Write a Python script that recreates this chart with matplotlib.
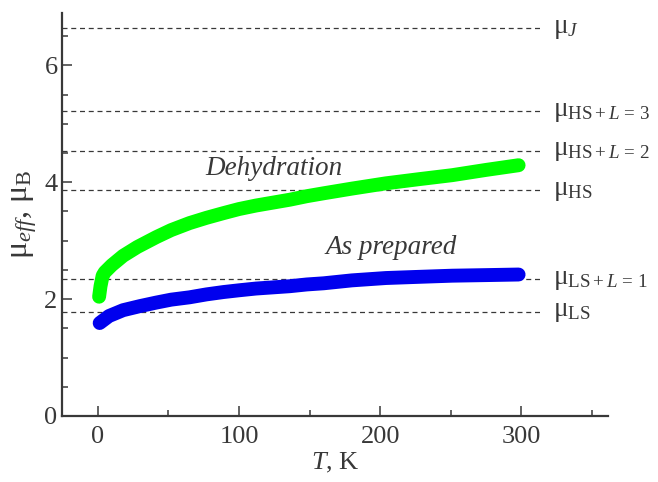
import matplotlib
matplotlib.use("Agg")
import matplotlib.pyplot as plt
from matplotlib.ticker import MultipleLocator

plt.rcParams['font.family'] = ['Liberation Serif', 'DejaVu Serif']
plt.rcParams['mathtext.fontset'] = 'custom'
plt.rcParams['mathtext.rm'] = 'Liberation Serif'
plt.rcParams['mathtext.it'] = 'Liberation Serif:italic'

# Dehydration (green)
T_dehyd = [1, 2, 3.5, 5, 10, 18, 28, 41.5, 52, 65, 77, 89, 100, 112, 124, 136, 148,
           160, 180, 204, 227, 251, 275, 298]
mu_dehyd = [2.04, 2.22, 2.40, 2.46, 2.58, 2.74, 2.89, 3.06, 3.18, 3.30, 3.39, 3.47, 3.54,
            3.60, 3.65, 3.70, 3.76, 3.81, 3.89, 3.98, 4.05, 4.12, 4.21, 4.29]

# As prepared (blue)
T_prep = [1.4, 8, 18, 30, 41.5, 52, 65, 77, 89, 100, 112, 124, 136, 148, 160, 180,
          204, 227, 251, 275, 298]
mu_prep = [1.59, 1.71, 1.81, 1.88, 1.94, 1.99, 2.03, 2.08, 2.12, 2.15, 2.18, 2.20, 2.22,
           2.25, 2.27, 2.32, 2.36, 2.38, 2.40, 2.41, 2.42]

# reference levels
ref_vals = [6.63, 5.21, 4.54, 3.86, 2.34, 1.78]
ref_labels = [r'μ$_{J}$', r'μ$_{\mathrm{HS}+L\,=\,3}$', r'μ$_{\mathrm{HS}+L\,=\,2}$',
              r'μ$_{\mathrm{HS}}$', r'μ$_{\mathrm{LS}+L\,=\,1}$', r'μ$_{\mathrm{LS}}$']

dark = '#383838'

fig = plt.figure(figsize=(6.58, 4.82), dpi=100)
ax = fig.add_axes([0.0948, 0.137, 0.8286, 0.8367])

for v, lab in zip(ref_vals, ref_labels):
    ax.plot([-25, 315], [v, v], ls=(0, (4, 3)), lw=0.9, color=dark, zorder=1)
    ax.text(322, v, lab, fontsize=19.5, color=dark, va='center', ha='left')

ax.plot(T_dehyd, mu_dehyd, color='#00ff00', lw=10, solid_capstyle='round', solid_joinstyle='round', zorder=2)
ax.plot(T_prep, mu_prep, color='#0000ee', lw=10, solid_capstyle='round', solid_joinstyle='round', zorder=2)

ax.text(125, 4.24, 'Dehydration', fontsize=19.5, style='italic', color=dark, ha='center', va='center')
ax.text(208, 2.89, 'As prepared', fontsize=19.5, style='italic', color=dark, ha='center', va='center')

ax.set_xlim(-25, 361)
ax.set_ylim(0, 6.9)
ax.xaxis.set_major_locator(MultipleLocator(100))
ax.xaxis.set_minor_locator(MultipleLocator(50))
ax.yaxis.set_major_locator(MultipleLocator(2))
ax.yaxis.set_minor_locator(MultipleLocator(0.5))

ax.spines['top'].set_visible(False)
ax.spines['right'].set_visible(False)
for s in ['left', 'bottom']:
    ax.spines[s].set_linewidth(1.6)
    ax.spines[s].set_color(dark)
ax.tick_params(which='both', direction='in', color=dark, labelcolor=dark, labelsize=19, width=1.1)
ax.tick_params(which='major', length=7)
ax.tick_params(which='minor', length=4.5)
ax.tick_params(axis='x', pad=7)

ax.set_xlabel(r'$T$, K', fontsize=19, color=dark, labelpad=2)
ax.set_ylabel(r'μ$_{eff}$, μ$_{\mathrm{B}}$', fontsize=23, color=dark, labelpad=4)

fig.savefig('out.png', dpi=100)
